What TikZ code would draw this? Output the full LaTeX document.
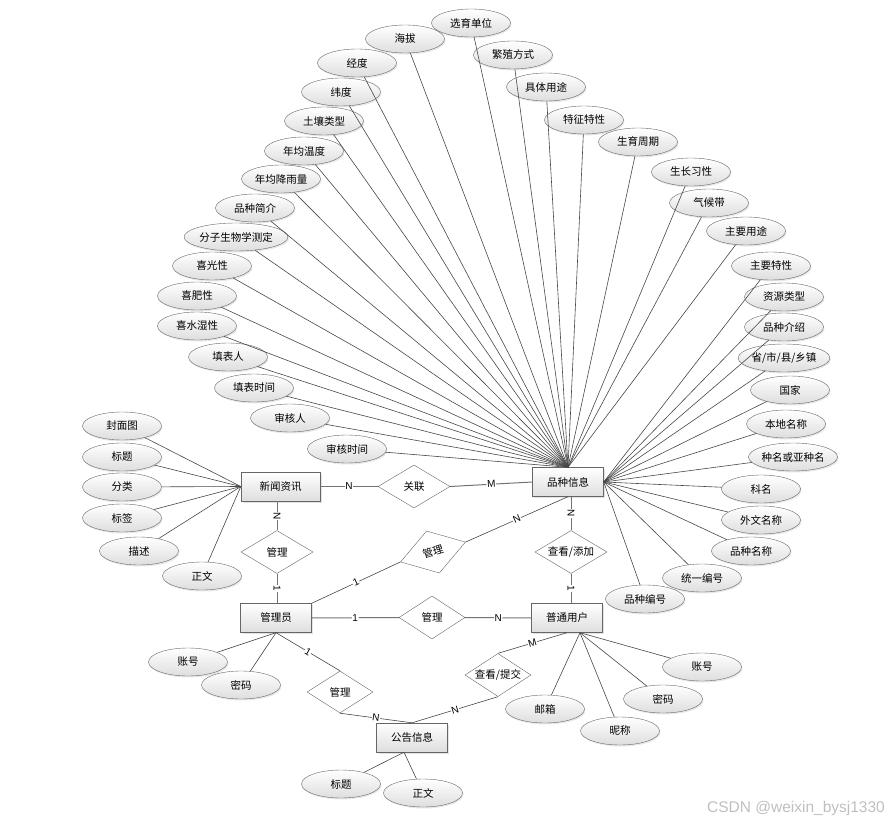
\documentclass[tikz,border=0pt]{standalone}
\usepackage{fontspec}
\setmainfont{Liberation Sans}
\newfontfamily\cjk{Noto Sans CJK SC}
\usepackage{tikz}
\usetikzlibrary{shapes.geometric,shadows}

\tikzset{
  attr/.style={ellipse,draw=black!60,top color=white,bottom color=black!13,
    minimum width=79pt,minimum height=28pt,inner sep=0pt,
    font=\cjk\fontsize{10.5}{12}\selectfont,
    drop shadow={opacity=0.18,shadow xshift=1pt,shadow yshift=-1.5pt}},
  ent/.style={rectangle,draw=black!60,top color=white,bottom color=black!13,
    minimum width=71pt,minimum height=29pt,inner sep=0pt,
    font=\cjk\fontsize{10.5}{12}\selectfont,
    drop shadow={opacity=0.22,shadow xshift=1.5pt,shadow yshift=-1.5pt}},
  rel/.style={diamond,draw=black!60,fill=white,shape aspect=1.7,
    minimum width=72pt,minimum height=43pt,inner sep=0pt,
    font=\cjk\fontsize{10.5}{12}\selectfont},
  conn/.style={draw=black!72,line width=0.6pt},
  link/.style={draw=black!55,line width=1pt},
  card/.style={fill=white,inner sep=0.6pt,sloped,font=\fontsize{10}{11}\selectfont}
}

\begin{document}
\begin{tikzpicture}[x=1pt,y=-1pt]
        \useasboundingbox (0,0) rectangle (892,824);
        % entities
        \node[ent] (pz) at (568,482) {品种信息};
        \node[ent,minimum width=79pt] (xw) at (280.5,486.5) {新闻资讯};
        \node[ent] (gly) at (276,618) {管理员};
        \node[ent] (yh) at (567,618) {普通用户};
        \node[ent] (gg) at (412,737.5) {公告信息};
        % relations
        \node[rel] (r1) at (414,486.5) {关联};
        \node[rel] (r2) at (277,552) {管理};
        \node[rel,minimum width=68pt,minimum height=44pt,rotate=17] (r3) at (433,552) {管理};
        \node[rel] (r4) at (571,552) {查看/添加};
        \node[rel,minimum width=66pt] (r5) at (432,617.5) {管理};
        \node[rel,minimum width=66pt,minimum height=42pt] (r6) at (340,692) {管理};
        \node[rel,minimum width=66pt] (r7) at (498,675) {查看/提交};
        % attributes of pz
        \node[attr] (p1) at (405,39) {海拔};
        \node[attr] (p2) at (357,63) {经度};
        \node[attr] (p3) at (341,92) {纬度};
        \node[attr] (p4) at (324,121) {土壤类型};
        \node[attr] (p5) at (304,151) {年均温度};
        \node[attr] (p6) at (281,179) {年均降雨量};
        \node[attr] (p7) at (255,208) {品种简介};
        \node[attr] (p8) at (236,237) {分子生物学测定};
        \node[attr] (p9) at (212,266) {喜光性};
        \node[attr] (p10) at (197,296) {喜肥性};
        \node[attr] (p11) at (197,326) {喜水湿性};
        \node[attr] (p12) at (228,357) {填表人};
        \node[attr] (p13) at (254,388) {填表时间};
        \node[attr] (p14) at (290,418) {审核人};
        \node[attr] (p15) at (347,449) {审核时间};
        \node[attr] (p16) at (471,23) {选育单位};
        \node[attr] (p17) at (513,55) {繁殖方式};
        \node[attr] (p18) at (546,87) {具体用途};
        \node[attr] (p19) at (584,120) {特征特性};
        \node[attr] (p20) at (638,142) {生育周期};
        \node[attr] (p21) at (691,172) {生长习性};
        \node[attr] (p22) at (709,203) {气候带};
        \node[attr] (p23) at (746,231) {主要用途};
        \node[attr] (p24) at (771,266) {主要特性};
        \node[attr] (p25) at (784,297) {资源类型};
        \node[attr] (p26) at (784,327) {品种介绍};
        \node[attr] (p27) at (784,358) {省/市/县/乡镇};
        \node[attr] (p28) at (790,390) {国家};
        \node[attr] (p29) at (786,424) {本地名称};
        \node[attr] (p30) at (793,457) {种名或亚种名};
        \node[attr] (p31) at (761,489) {科名};
        \node[attr] (p32) at (761,520) {外文名称};
        \node[attr] (p33) at (751,551) {品种名称};
        \node[attr] (p34) at (702,578) {统一编号};
        \node[attr] (p35) at (645,599) {品种编号};
        % attributes of xw
        \node[attr] (x1) at (122,426) {封面图};
        \node[attr] (x2) at (122,457) {标题};
        \node[attr] (x3) at (122,487) {分类};
        \node[attr] (x4) at (122,518) {标签};
        \node[attr] (x5) at (139,551) {描述};
        \node[attr] (x6) at (202,576) {正文};
        % attributes of gly, yh, gg
        \node[attr] (g1) at (188,662) {账号};
        \node[attr] (g2) at (241,685) {密码};
        \node[attr] (u1) at (702,667) {账号};
        \node[attr] (u2) at (663,699) {密码};
        \node[attr] (u3) at (545,709) {邮箱};
        \node[attr] (u4) at (620,731) {昵称};
        \node[attr] (n1) at (341,784) {标题};
        \node[attr] (n2) at (423,793) {正文};
        \coordinate (yhb) at ([xshift=13pt]yh.south);
        \coordinate (ggb) at ([xshift=-8pt]gg.south);

        \draw[conn] (p1) -- (pz.north);
        \draw[conn] (p2) -- (pz.north);
        \draw[conn] (p3) -- (pz.north);
        \draw[conn] (p4) -- (pz.north);
        \draw[conn] (p5) -- (pz.north);
        \draw[conn] (p6) -- (pz.north);
        \draw[conn] (p7) -- (pz.north);
        \draw[conn] (p8) -- (pz.north);
        \draw[conn] (p9) -- (pz.north);
        \draw[conn] (p10) -- (pz.north);
        \draw[conn] (p11) -- (pz.north);
        \draw[conn] (p12) -- (pz.north);
        \draw[conn] (p13) -- (pz.north);
        \draw[conn] (p14) -- (pz.north);
        \draw[conn] (p15) -- (pz.north);
        \draw[conn] (p16) -- (pz.north);
        \draw[conn] (p17) -- (pz.north);
        \draw[conn] (p18) -- (pz.north);
        \draw[conn] (p19) -- (pz.north);
        \draw[conn] (p20) -- (pz.north);
        \draw[conn] (p21) -- (pz.north);
        \draw[conn] (p22) -- (pz.north);
        \draw[conn] (p23) -- (pz.north);
        \draw[conn] (p24) -- (pz.east);
        \draw[conn] (p25) -- (pz.east);
        \draw[conn] (p26) -- (pz.east);
        \draw[conn] (p27) -- (pz.east);
        \draw[conn] (p28) -- (pz.east);
        \draw[conn] (p29) -- (pz.east);
        \draw[conn] (p30) -- (pz.east);
        \draw[conn] (p31) -- (pz.east);
        \draw[conn] (p32) -- (pz.east);
        \draw[conn] (p33) -- (pz.east);
        \draw[conn] (p34) -- (pz.east);
        \draw[conn] (p35) -- (pz.east);

        \draw[conn] (x1) -- (xw.west);
        \draw[conn] (x2) -- (xw.west);
        \draw[conn] (x3) -- (xw.west);
        \draw[conn] (x4) -- (xw.west);
        \draw[conn] (x5) -- (xw.west);
        \draw[conn] (x6) -- (xw.west);

        \draw[conn] (g1) -- (gly.south);
        \draw[conn] (g2) -- (gly.south);
        \draw[conn] (u1) -- (yhb);
        \draw[conn] (u2) -- (yhb);
        \draw[conn] (u3) -- (yhb);
        \draw[conn] (u4) -- (yhb);
        \draw[conn] (n1) -- (ggb);
        \draw[conn] (n2) -- (ggb);

        % relation links
        \draw[link] (xw.east) -- node[card] (c1) {N} (r1.west);
        \draw[link] (r1.east) -- node[card] (c2) {M} (pz.west);
        \draw[link] (r2.north |- xw.south) -- node[card] (c3) {N} (r2.north);
        \draw[link] (r2.south) -- node[card] (c4) {1} (r2.south |- gly.north);
        \draw[conn] (gly.north east) -- node[card] (c5) {1} (r3.west);
        \draw[conn] (r3.east) -- node[card] (c6) {N} (pz.south);
        \draw[link] (r4.north |- pz.south) -- node[card] (c7) {N} (r4.north);
        \draw[link] (r4.south) -- node[card] (c8) {1} (r4.south |- yh.north);
        \draw[link] (gly.east) -- node[card] (c9) {1} (r5.west);
        \draw[link] (r5.east) -- node[card] (c10) {N} (yh.west);
        \draw[conn] (gly.south) -- node[card] (c11) {1} (r6.north);
        \draw[conn] (r6.south) -- node[card] (c12) {N} (gg.north);
        \draw[conn] (yh.south) -- node[card] (c13) {M} (r7.north);
        \draw[conn] (r7.south) -- node[card] (c14) {N} (gg.north);

        \node[text=black!25,font=\fontsize{15.5}{17}\selectfont] (wm) at (796,808) {CSDN @weixin\_bysj1330};
        \end{tikzpicture}
\end{document}
